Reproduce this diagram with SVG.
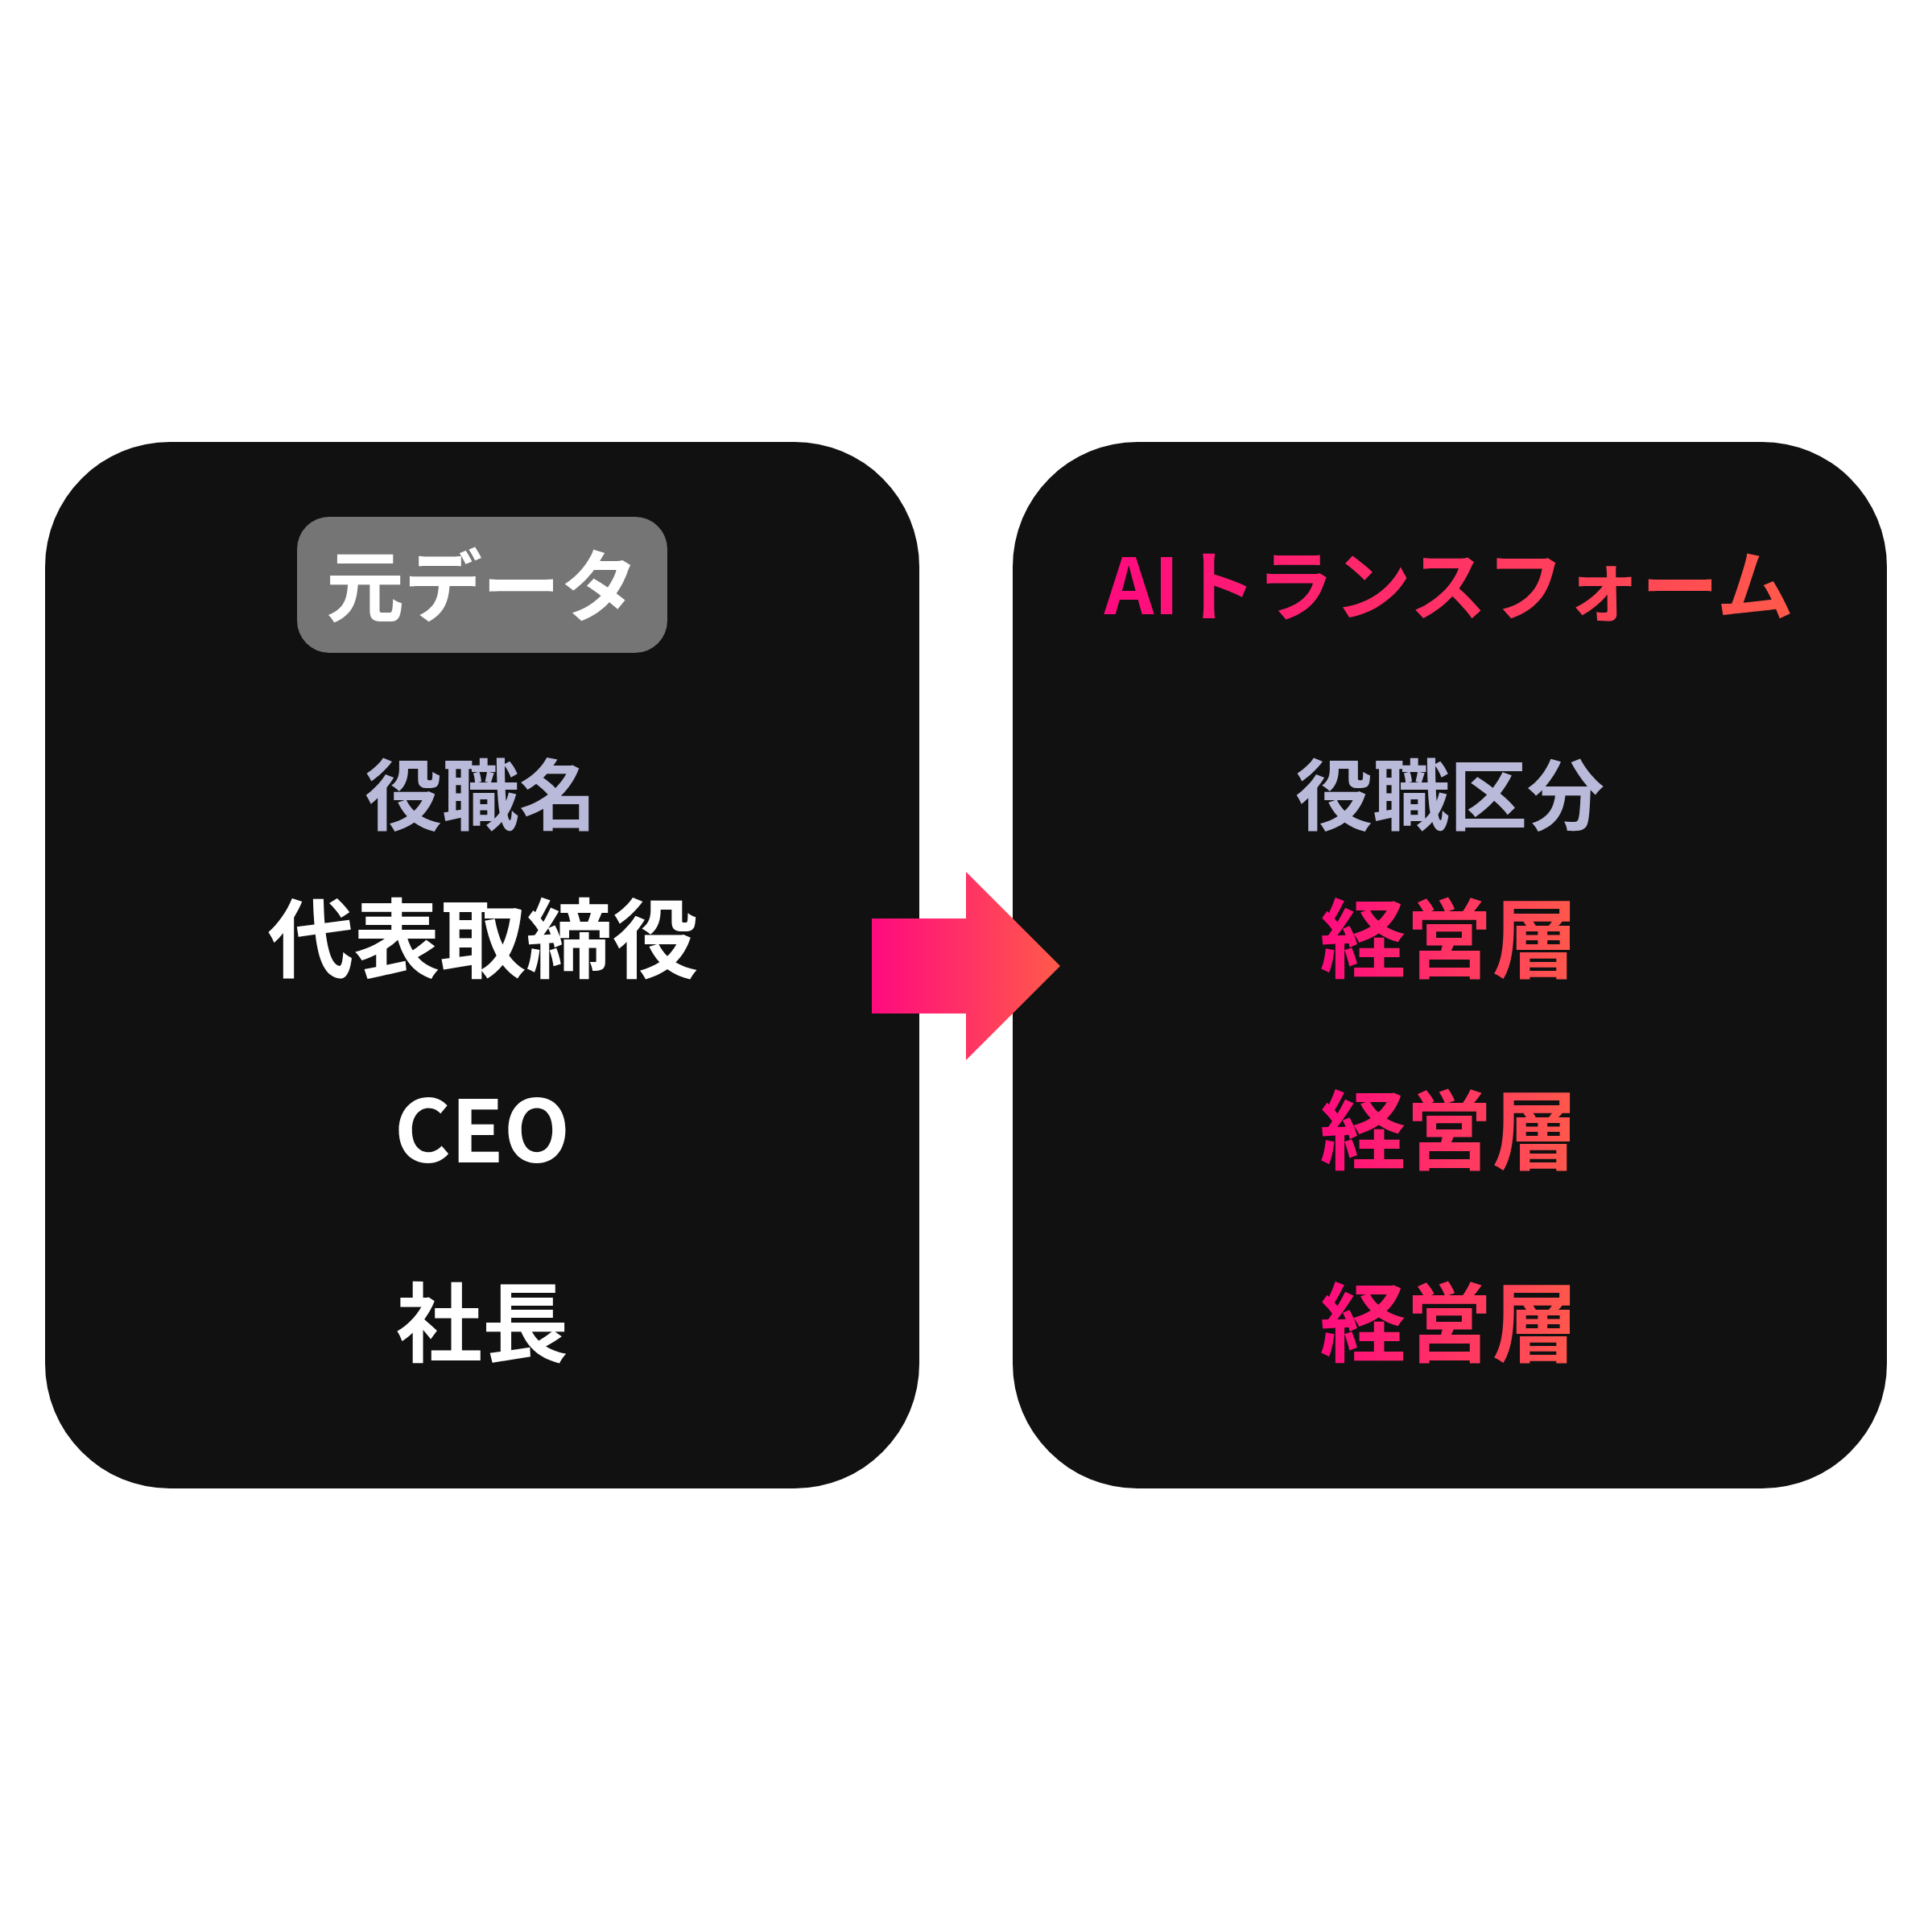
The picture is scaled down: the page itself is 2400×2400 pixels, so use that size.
<svg xmlns="http://www.w3.org/2000/svg" width="2400" height="2400" viewBox="0 0 2400 2400">
  <defs>
    <linearGradient id="gradArrow" gradientUnits="userSpaceOnUse" x1="1083" y1="0" x2="1317" y2="0">
      <stop offset="0" stop-color="#FF0A7F"/>
      <stop offset="1" stop-color="#FF5A4A"/>
    </linearGradient>
    <linearGradient id="gradText" x1="0" y1="0" x2="1" y2="0">
      <stop offset="0" stop-color="#FF0A7F"/>
      <stop offset="1" stop-color="#FF5A4A"/>
    </linearGradient>
    <style>
      .panel { fill: #111111; }
      .t { font-family: "Noto Sans CJK JP", "Noto Sans", sans-serif; font-weight: 700; text-anchor: middle; }
      .hdr { fill: #B9BAD9; font-size: 96px; }
      .val { fill: #FFFFFF; font-size: 107px; }
      .grad { fill: url(#gradText); font-size: 107px; }
    </style>
  </defs>
  <rect width="2400" height="2400" fill="#FFFFFF"/>

  <g id="panel-source">
    <rect class="panel" x="56" y="549" width="1086" height="1300" rx="155" ry="155"/>
    <rect x="369" y="642" width="460" height="169" rx="40" ry="40" fill="#757575"/>
    <text class="t" x="599" y="764" font-size="97" fill="#FFFFFF">元データ</text>
    <text class="t hdr" x="597" y="1023">役職名</text>
    <text class="t val" x="600" y="1206">代表取締役</text>
    <text class="t val" x="599" y="1444" font-size="109">CEO</text>
    <text class="t val" x="599" y="1683">社長</text>
  </g>

  <g id="panel-ai">
    <rect class="panel" x="1258" y="549" width="1086" height="1300" rx="155" ry="155"/>
    <text class="t" x="1800" y="763" font-size="96" fill="url(#gradText)">AIトランスフォーム</text>
    <text class="t hdr" x="1801" y="1023">役職区分</text>
    <text class="t grad" x="1800" y="1206">経営層</text>
    <text class="t grad" x="1800" y="1444">経営層</text>
    <text class="t grad" x="1800" y="1683">経営層</text>
  </g>

  <g id="connectors">
    <polygon points="1083,1141 1200,1141 1200,1083 1317,1200 1200,1317 1200,1259 1083,1259" fill="url(#gradArrow)"/>
  </g>
</svg>
